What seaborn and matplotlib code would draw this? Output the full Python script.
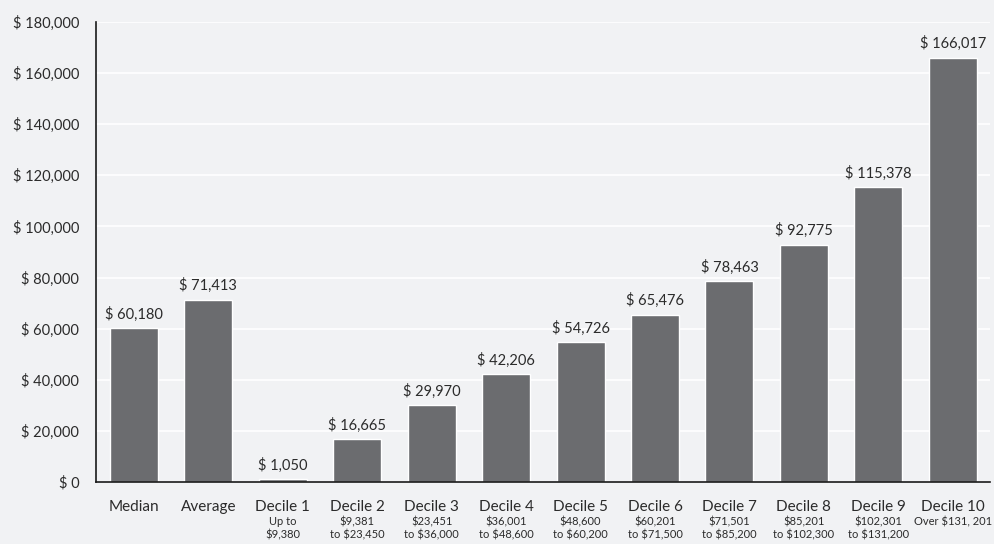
import matplotlib
matplotlib.use("Agg")
import matplotlib.pyplot as plt
import matplotlib.transforms as mtransforms
import seaborn as sns
import pandas as pd

categories = ["Median", "Average", "Decile 1", "Decile 2", "Decile 3", "Decile 4",
              "Decile 5", "Decile 6", "Decile 7", "Decile 8", "Decile 9", "Decile 10"]
values = [60180, 71413, 1050, 16665, 29970, 42206, 54726, 65476, 78463, 92775,
          115378, 166017]
ranges = ["", "", "Up to\n$9,380", "$9,381\nto $23,450", "$23,451\nto $36,000",
          "$36,001\nto $48,600", "$48,600\nto $60,200", "$60,201\nto $71,500",
          "$71,501\nto $85,200", "$85,201\nto $102,300", "$102,301\nto $131,200",
          "Over $131, 201"]
y_ticks = list(range(0, 180001, 20000))

bg = "#f1f2f4"
bar_color = "#6b6c6f"
text_color = "#2b2b2b"

sns.set_style("white")
plt.rcParams["font.family"] = ["Lato", "DejaVu Sans"]

df = pd.DataFrame({"category": categories, "value": values})

fig = plt.figure(figsize=(9.95, 5.44), dpi=100, facecolor=bg)
ax = fig.add_axes([96 / 995, 62 / 544, 894 / 995, 460 / 544])
ax.set_facecolor(bg)

sns.barplot(data=df, x="category", y="value", color=bar_color, width=0.645,
            saturation=1, ax=ax, zorder=3)

ax.set_ylim(0, 180000)
ax.set_xlim(-0.51, 11.5)
ax.set_yticks(y_ticks)
ax.set_yticklabels([f"\\$ {v:,}" for v in y_ticks], fontsize=10.5, color=text_color)
ax.yaxis.grid(True, color="white", linewidth=1.2, zorder=0)
ax.set_axisbelow(True)
ax.tick_params(axis="y", length=0, pad=12)
ax.tick_params(axis="x", length=0, pad=13, labelsize=11, labelcolor=text_color)
ax.set_xlabel("")
ax.set_ylabel("")

for side in ["top", "right"]:
    ax.spines[side].set_visible(False)
for side in ["left", "bottom"]:
    ax.spines[side].set_color("#1a1a1a")
    ax.spines[side].set_linewidth(1.2)
    ax.spines[side].set_zorder(4)

for i, v in enumerate(values):
    ax.text(i, v + 2600, f"\\$ {v:,}", ha="center", va="bottom", fontsize=10.5,
            color=text_color)

# income range under each decile name
trans = mtransforms.blended_transform_factory(ax.transData, ax.transAxes)
for i, r in enumerate(ranges):
    if r:
        ax.text(i, -0.074, r.replace("$", "\\$"), transform=trans, ha="center",
                va="top", fontsize=8, color=text_color, linespacing=1.2)

fig.savefig("out.png", dpi=100, facecolor=bg)
